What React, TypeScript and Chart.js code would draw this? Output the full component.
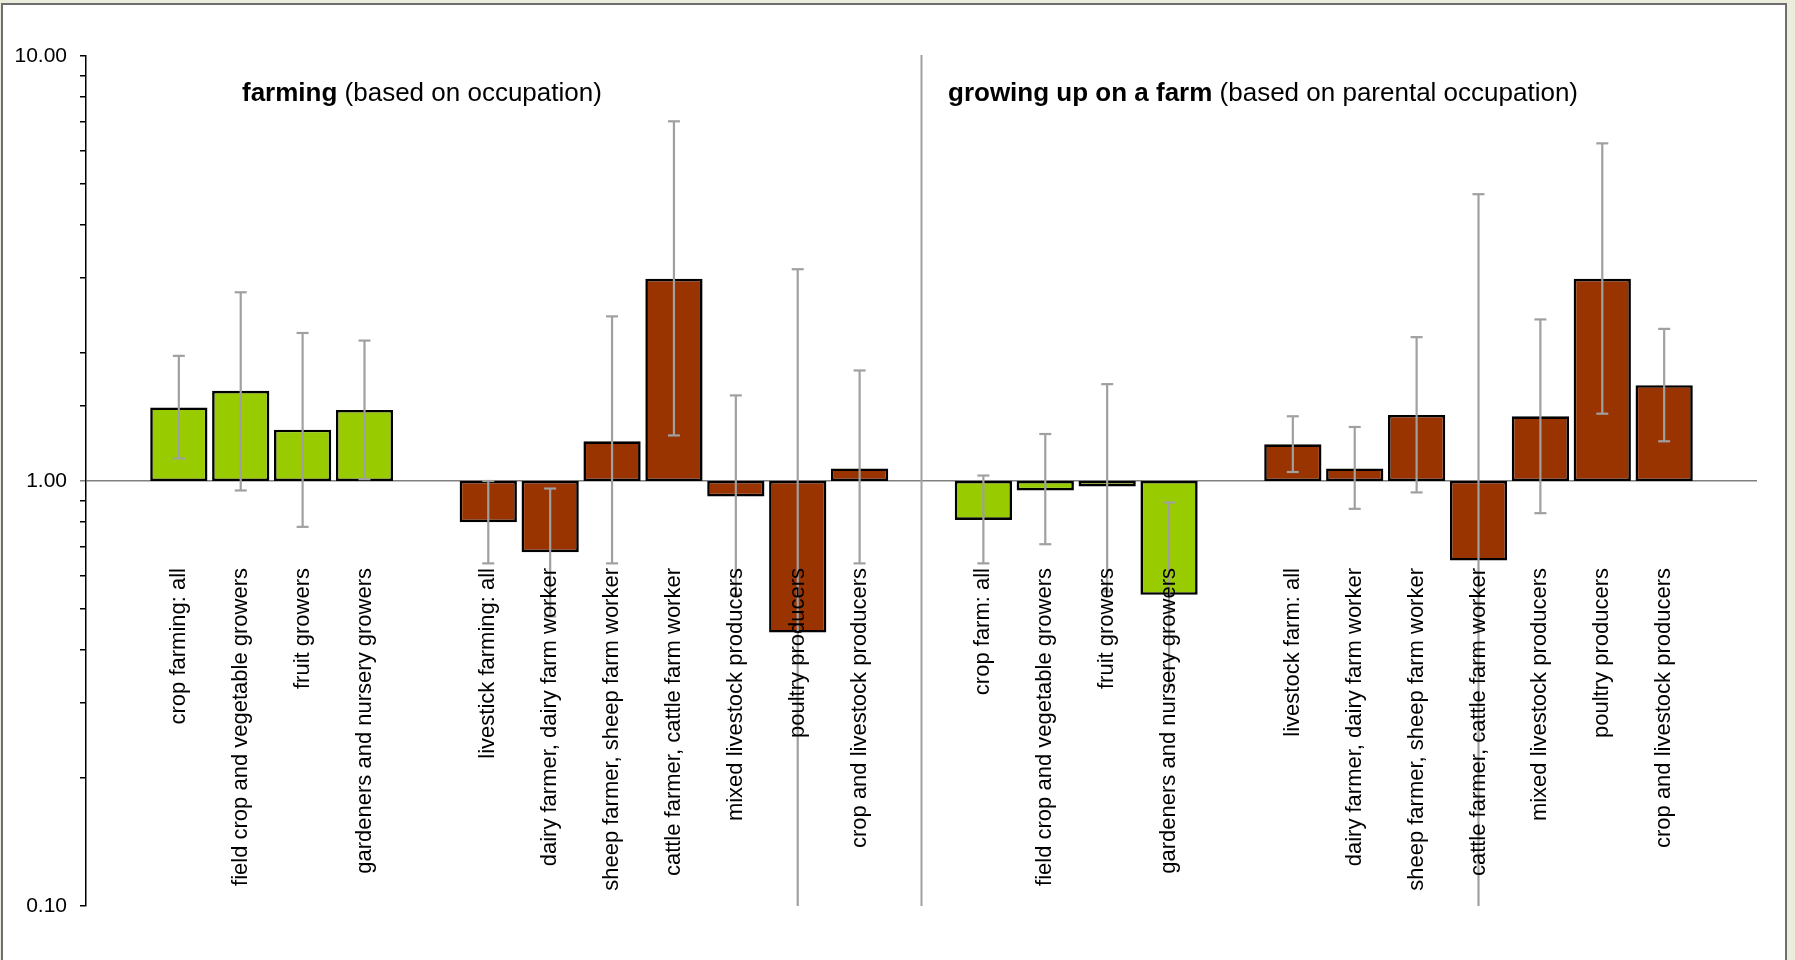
import React, { useEffect, useRef } from 'react';
import { Chart, registerables } from 'chart.js';

Chart.register(...registerables);

// ---- categories (27 slots: blanks are spacer slots, slot 13 holds the divider) ----
const categories: string[] = [
  '',
  'crop farming: all',
  'field crop and vegetable growers',
  'fruit growers',
  'gardeners and nursery growers',
  '',
  'livestick farming: all',
  'dairy farmer, dairy farm worker',
  'sheep farmer, sheep farm worker',
  'cattle farmer, cattle farm worker',
  'mixed livestock producers',
  'poultry producers',
  'crop and livestock producers',
  '',
  'crop farm: all',
  'field crop and vegetable growers',
  'fruit growers',
  'gardeners and nursery growers',
  '',
  'livestock farm: all',
  'dairy farmer, dairy farm worker',
  'sheep farmer, sheep farm worker',
  'cattle farmer, cattle farm worker',
  'mixed livestock producers',
  'poultry producers',
  'crop and livestock producers',
  '',
];

const dividerSlot = 13;

// ---- farming (based on occupation) ----
const farmingCropStart = 1;
const farmingCropOR = [1.49, 1.63, 1.32, 1.47];
const farmingCropLo = [1.13, 0.95, 0.78, 1.01];
const farmingCropHi = [1.97, 2.78, 2.23, 2.14];

const farmingLivestockStart = 6;
const farmingLivestockOR = [0.8, 0.68, 1.24, 2.99, 0.92, 0.44, 1.07];
const farmingLivestockLo = [0.64, 0.48, 0.64, 1.28, 0.54, 0.06, 0.64];
const farmingLivestockHi = [1.0, 0.96, 2.44, 7.02, 1.59, 3.15, 1.82];

// ---- growing up on a farm (based on parental occupation) ----
const farmCropStart = 14;
const farmCropOR = [0.81, 0.95, 0.97, 0.54];
const farmCropLo = [0.64, 0.71, 0.55, 0.33];
const farmCropHi = [1.03, 1.29, 1.69, 0.89];

const farmLivestockStart = 19;
const farmLivestockOR = [1.22, 1.07, 1.43, 0.65, 1.42, 2.99, 1.68];
const farmLivestockLo = [1.05, 0.86, 0.94, 0.09, 0.84, 1.44, 1.24];
const farmLivestockHi = [1.42, 1.34, 2.18, 4.73, 2.4, 6.23, 2.28];

const yTickLabels: number[] = [0.1, 1, 10];

const titleBold1 = 'farming';
const titleRest1 = ' (based on occupation)';
const titleBold2 = 'growing up on a farm';
const titleRest2 = ' (based on parental occupation)';

const GREEN = '#99CC00';
const BROWN = '#993300';
const ERR = '#A0A0A0';
const FONT = '"Liberation Sans", Arial, sans-serif';

function slots(parts: Array<[number, number[]]>): (number | null)[] {
  const out: (number | null)[] = new Array(categories.length).fill(null);
  parts.forEach(([start, vals]) => vals.forEach((v, i) => { out[start + i] = v; }));
  return out;
}

const cropOR = slots([[farmingCropStart, farmingCropOR], [farmCropStart, farmCropOR]]);
const cropLo = slots([[farmingCropStart, farmingCropLo], [farmCropStart, farmCropLo]]);
const cropHi = slots([[farmingCropStart, farmingCropHi], [farmCropStart, farmCropHi]]);
const liveOR = slots([[farmingLivestockStart, farmingLivestockOR], [farmLivestockStart, farmLivestockOR]]);
const liveLo = slots([[farmingLivestockStart, farmingLivestockLo], [farmLivestockStart, farmLivestockLo]]);
const liveHi = slots([[farmingLivestockStart, farmingLivestockHi], [farmLivestockStart, farmLivestockHi]]);

const errorSets = [
  { lo: cropLo, hi: cropHi },
  { lo: liveLo, hi: liveHi },
];

const overlayPlugin = {
  id: 'overlay',
  beforeDatasetsDraw(chart: any) {
    const { ctx, chartArea, scales } = chart;
    const x = scales.x;
    ctx.save();
    // divider
    const dx = x.getPixelForValue(dividerSlot);
    ctx.strokeStyle = ERR;
    ctx.lineWidth = 2;
    ctx.beginPath();
    ctx.moveTo(dx, chartArea.top - 1);
    ctx.lineTo(dx, chartArea.bottom);
    ctx.stroke();
    // panel titles
    ctx.fillStyle = '#000';
    ctx.textAlign = 'left';
    ctx.textBaseline = 'alphabetic';
    const drawTitle = (bold: string, rest: string, tx: number) => {
      const ty = chartArea.top + 45;
      ctx.font = `bold 26px ${FONT}`;
      ctx.fillText(bold, tx, ty);
      const w = ctx.measureText(bold).width;
      ctx.font = `26px ${FONT}`;
      ctx.fillText(rest, tx + w, ty);
    };
    drawTitle(titleBold1, titleRest1, chartArea.left + 156);
    drawTitle(titleBold2, titleRest2, chartArea.left + 862);
    ctx.restore();
  },
  afterDatasetsDraw(chart: any) {
    const { ctx, scales } = chart;
    const x = scales.x;
    const y = scales.y;
    const yMin = y.min;
    const yMax = y.max;
    ctx.save();
    // error bars
    ctx.strokeStyle = ERR;
    ctx.lineWidth = 2.2;
    const cap = 6;
    errorSets.forEach(({ lo, hi }) => {
      lo.forEach((l, i) => {
        const h = hi[i];
        if (l == null || h == null) return;
        const px = x.getPixelForValue(i);
        const yTop = y.getPixelForValue(Math.min(h, yMax));
        const yBot = y.getPixelForValue(Math.max(l, yMin));
        ctx.beginPath();
        ctx.moveTo(px, yTop);
        ctx.lineTo(px, yBot);
        ctx.stroke();
        if (h <= yMax) {
          ctx.beginPath();
          ctx.moveTo(px - cap, yTop);
          ctx.lineTo(px + cap, yTop);
          ctx.stroke();
        }
        if (l >= yMin) {
          ctx.beginPath();
          ctx.moveTo(px - cap, yBot);
          ctx.lineTo(px + cap, yBot);
          ctx.stroke();
        }
      });
    });
    // category labels (rotated), drawn on top of the bars
    ctx.fillStyle = '#000';
    ctx.font = `22px ${FONT}`;
    ctx.textAlign = 'right';
    ctx.textBaseline = 'middle';
    const ly = y.getPixelForValue(1) + 87;
    categories.forEach((c, i) => {
      if (!c) return;
      ctx.save();
      ctx.translate(x.getPixelForValue(i), ly);
      ctx.rotate(-Math.PI / 2);
      ctx.fillText(c, 0, 0);
      ctx.restore();
    });
    ctx.restore();
  },
};

export default function App() {
  const ref = useRef<HTMLCanvasElement | null>(null);

  useEffect(() => {
    if (!ref.current) return;
    const chart = new Chart(ref.current, {
      type: 'bar',
      data: {
        labels: categories,
        datasets: [
          {
            label: 'crop',
            data: cropOR.map((v) => (v == null ? null : [1, v])) as any,
            backgroundColor: GREEN,
            borderColor: '#000',
            borderWidth: 2.6,
            borderSkipped: false,
          },
          {
            label: 'livestock',
            data: liveOR.map((v) => (v == null ? null : [1, v])) as any,
            backgroundColor: BROWN,
            borderColor: '#000',
            borderWidth: 2.6,
            borderSkipped: false,
          },
        ],
      },
      options: {
        responsive: false,
        animation: false,
        devicePixelRatio: 1,
        layout: { padding: { left: 0, right: 38, top: 56, bottom: 54 } },
        datasets: { bar: { grouped: false, barPercentage: 0.925, categoryPercentage: 1 } } as any,
        plugins: {
          legend: { display: false },
          tooltip: { enabled: false },
          title: { display: false },
        },
        scales: {
          x: {
            type: 'category',
            display: false,
            offset: true,
          },
          y: {
            type: 'logarithmic',
            min: 0.1,
            max: 10,
            afterFit: (scale: any) => { scale.width = 86; },
            border: { display: true, color: '#000', width: 1.5 },
            grid: {
              drawOnChartArea: true,
              drawTicks: true,
              tickLength: 6,
              lineWidth: 1.5,
              color: (c: any) => (c.tick && c.tick.value === 1 ? '#808080' : 'rgba(0,0,0,0)'),
              tickColor: (c: any) => (c.tick && c.tick.value === 1 ? '#808080' : '#000'),
              tickWidth: 1.5,
            } as any,
            ticks: {
              autoSkip: false,
              padding: 13,
              color: '#000',
              font: { family: FONT, size: 21 },
              callback: (val: any) => {
                const v = Number(val);
                const hit = yTickLabels.find((t) => Math.abs(t - v) < 1e-9);
                return hit != null ? hit.toFixed(2) : '';
              },
            },
          },
        },
      },
      plugins: [overlayPlugin],
    });
    return () => chart.destroy();
  }, []);

  return (
    <div
      style={{
        position: 'fixed',
        left: 0,
        top: 0,
        width: 1795,
        height: 960,
        background: '#ECECDC',
        overflow: 'hidden',
      }}
    >
      <div
        style={{
          position: 'absolute',
          left: 1,
          top: 3,
          width: 1782,
          height: 980,
          background: '#FFFFFF',
          border: '2px solid #6E6E6E',
        }}
      />
      <canvas
        ref={ref}
        width={1795}
        height={960}
        style={{ position: 'absolute', left: 0, top: 0, width: 1795, height: 960 }}
      />
    </div>
  );
}
